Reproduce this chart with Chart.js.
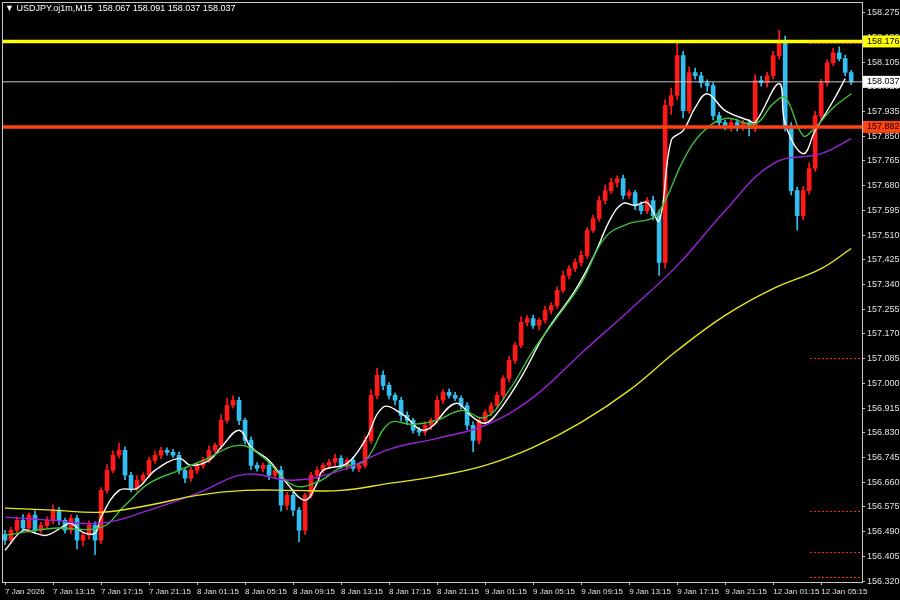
<!DOCTYPE html>
<html>
<head>
<meta charset="utf-8">
<script src="https://cdn.jsdelivr.net/npm/chart.js@4"></script>
<style>
  html, body { margin: 0; padding: 0; background: #000; }
  #wrap { width: 900px; height: 600px; position: relative; }
</style>
</head>
<body>
<div id="wrap"><canvas id="myChart"></canvas></div>
<script>
// USDJPY M15, valores
const firstOpen = 156.480;
const closes = [
  156.461,156.495,156.529,156.502,156.547,156.495,156.512,156.529,156.564,156.529,156.495,156.536,156.461,156.478,156.512,156.461,
  156.632,156.701,156.753,156.770,156.684,156.639,156.667,156.684,156.735,156.753,156.770,156.763,156.753,156.701,156.674,156.701,
  156.718,156.735,156.770,156.787,156.873,156.924,156.942,156.873,156.804,156.718,156.708,156.718,156.684,156.701,156.581,156.615,
  156.564,156.495,156.615,156.684,156.701,156.718,156.729,156.742,156.718,156.735,156.708,156.718,156.804,156.959,157.028,156.993,
  156.959,156.942,156.890,156.873,156.839,156.832,156.856,156.873,156.942,156.969,156.959,156.949,156.924,156.856,156.804,156.873,
  156.900,156.924,156.959,157.017,157.079,157.131,157.210,157.223,157.199,157.217,157.251,157.268,157.320,157.371,157.395,157.416,
  157.440,157.526,157.567,157.629,157.663,157.691,157.704,157.646,157.656,157.612,157.594,157.629,157.577,157.416,157.955,157.990,
  158.127,157.938,158.069,158.058,158.034,158.024,157.921,157.897,157.887,157.897,157.883,157.897,157.876,158.041,158.034,158.058,
  158.127,158.179,157.887,157.663,157.577,157.663,157.739,157.921,158.034,158.103,158.137,158.117,158.069,158.037
];
// mechas en milesimas
const wickUp = [
  15,10,12,20,8,15,10,12,18,10,8,12,10,8,15,12,
  10,20,15,25,12,10,15,8,12,15,10,8,10,12,8,10,
  10,12,15,8,20,25,15,10,8,12,10,8,10,12,15,10,
  12,10,8,10,12,8,10,15,10,8,12,10,15,20,25,15,
  10,8,10,12,8,10,12,8,15,10,12,10,8,10,12,10,
  8,10,12,10,15,10,20,10,12,8,15,10,12,15,10,12,
  15,10,12,15,20,15,10,12,10,8,12,10,15,20,20,25,
  50,15,20,15,12,10,10,12,8,10,12,8,10,20,15,12,
  15,35,15,10,12,15,20,15,12,10,15,20,12,8
];
const wickDown = [
  15,12,10,10,15,12,10,8,12,15,10,12,30,20,15,50,
  12,10,8,10,15,12,10,12,8,10,12,10,8,12,15,10,
  12,10,8,10,12,10,8,15,12,15,10,12,15,10,20,15,
  20,40,15,10,12,10,8,12,10,15,10,12,8,10,12,15,
  12,15,20,15,10,12,10,15,10,12,10,8,12,15,40,12,
  10,12,8,10,12,10,8,12,10,15,10,12,10,8,12,10,
  12,10,8,10,12,10,15,12,10,15,12,10,15,45,20,30,
  15,25,10,12,15,20,15,12,15,20,15,12,25,10,12,15,
  10,12,20,15,50,15,12,10,15,12,10,8,12,10
];

// medias moviles [indice, precio]
const maWhite = [[0,156.426],[3,156.495],[5,156.485],[7,156.478],[10,156.512],[11,156.519],[13,156.488],[15,156.485],[16,156.540],[19,156.632],[22,156.639],[25,156.701],[29,156.742],[31,156.718],[34,156.735],[36,156.780],[39,156.839],[41,156.780],[44,156.735],[47,156.656],[50,156.598],[52,156.656],[53,156.701],[57,156.725],[60,156.804],[63,156.918],[66,156.897],[70,156.839],[75,156.931],[78,156.883],[80,156.863],[82,156.897],[86,157.021],[90,157.172],[95,157.320],[98,157.433],[101,157.570],[103,157.619],[105,157.612],[107,157.622],[109,157.560],[111,157.835],[113,157.869],[115,157.948],[117,157.996],[120,157.938],[124,157.904],[125,157.897],[129,158.031],[130,157.893],[133,157.790],[135,157.869],[138,157.972],[140,158.048]];
const maGreen = [[0,156.478],[8,156.502],[16,156.505],[20,156.581],[24,156.656],[29,156.701],[33,156.735],[39,156.787],[43,156.746],[48,156.650],[52,156.660],[56,156.711],[60,156.735],[64,156.863],[68,156.859],[72,156.873],[76,156.907],[80,156.883],[84,156.976],[88,157.113],[92,157.227],[96,157.344],[100,157.502],[104,157.550],[108,157.570],[110,157.629],[113,157.766],[116,157.859],[120,157.911],[125,157.893],[128,157.962],[130,157.983],[133,157.852],[135,157.880],[138,157.948],[141,157.996]];
const maPurple = [[0,156.540],[8,156.529],[16,156.519],[24,156.564],[32,156.622],[40,156.687],[48,156.667],[56,156.701],[64,156.773],[72,156.811],[80,156.856],[88,156.952],[96,157.103],[104,157.251],[112,157.405],[120,157.594],[128,157.756],[136,157.790],[141,157.842]];
const maYellow = [[0,156.571],[8,156.564],[16,156.557],[24,156.581],[32,156.615],[40,156.632],[48,156.632],[56,156.632],[64,156.656],[72,156.681],[80,156.718],[88,156.780],[96,156.866],[104,156.976],[112,157.113],[120,157.234],[128,157.326],[136,157.395],[141,157.464]];

const priceTicks = [156.320,156.405,156.490,156.575,156.660,156.745,156.830,156.915,157.000,157.085,157.170,157.255,157.340,157.425,157.510,157.595,157.680,157.765,157.850,157.935,158.020,158.105,158.190,158.275];
const timeLabels = ['7 Jan 2026','7 Jan 13:15','7 Jan 17:15','7 Jan 21:15','8 Jan 01:15','8 Jan 05:15','8 Jan 09:15','8 Jan 13:15','8 Jan 17:15','8 Jan 21:15','9 Jan 01:15','9 Jan 05:15','9 Jan 09:15','9 Jan 13:15','9 Jan 17:15','9 Jan 21:15','12 Jan 01:15','12 Jan 05:15'];
const labelStep = 8;

const levelHigh = 158.176;
const levelLow = 157.882;
const lastPrice = 158.037;
const alertLevels = [157.089, 156.560, 156.419, 156.333];

const UP = '#ff1a1a';
const DOWN = '#33bdf0';
const FONT = 'Liberation Sans';

const bodies = [], wicks = [], bodyColors = [];
let prev = firstOpen;
closes.forEach((c, i) => {
  const o = prev;
  const hi = Math.max(o, c) + wickUp[i] / 1000;
  const lo = Math.min(o, c) - wickDown[i] / 1000;
  const col = c >= o ? UP : DOWN;
  let top = c, bot = o;
  if (Math.abs(c - o) < 0.002) { top = o + 0.001; bot = o - 0.001; }
  bodies.push({ x: i, y: [bot, top] });
  wicks.push({ x: i, y: [lo, hi] });
  bodyColors.push(col);
  prev = c;
});

const toPts = arr => arr.map(p => ({ x: p[0], y: p[1] }));
const maLine = (arr, color) => ({
  type: 'line', data: toPts(arr), borderColor: color, borderWidth: 1.4,
  pointRadius: 0, tension: 0.4, fill: false, order: 0
});

const overlay = {
  id: 'overlay',
  afterDatasetsDraw(chart) {
    const { ctx, chartArea: a, scales: { y } } = chart;
    ctx.save();
    const hline = (v, color, w) => {
      const py = y.getPixelForValue(v);
      ctx.strokeStyle = color; ctx.lineWidth = w;
      ctx.beginPath(); ctx.moveTo(a.left, py); ctx.lineTo(a.right, py); ctx.stroke();
    };
    hline(lastPrice, '#c8c8c8', 1);
    hline(levelLow, '#ff4010', 3.5);
    hline(levelHigh, '#ffff00', 3.5);

    ctx.strokeStyle = '#ff2020'; ctx.lineWidth = 1; ctx.setLineDash([2, 2]);
    alertLevels.concat([levelHigh - 0.006]).forEach(v => {
      const py = Math.round(y.getPixelForValue(v)) + 0.5;
      ctx.beginPath(); ctx.moveTo(a.right - 52, py); ctx.lineTo(a.right - 2, py); ctx.stroke();
    });
    ctx.setLineDash([]);

    ctx.strokeStyle = '#c8c8c8'; ctx.lineWidth = 1;
    ctx.strokeRect(a.left + 0.5, 2.5, a.right - a.left, a.bottom - 2);

    const tag = (v, bg, fg) => {
      const py = y.getPixelForValue(v);
      ctx.fillStyle = bg; ctx.fillRect(a.right + 1, py - 6, 37, 12);
      ctx.fillStyle = fg; ctx.font = '9px "' + FONT + '"';
      ctx.textBaseline = 'middle'; ctx.textAlign = 'left';
      ctx.fillText(v.toFixed(3), a.right + 5, py);
    };
    tag(levelHigh, '#ffff00', '#000');
    tag(levelLow, '#ff4010', '#000');
    tag(lastPrice, '#ffffff', '#000');

    ctx.fillStyle = '#fff'; ctx.font = '9px "' + FONT + '"';
    ctx.textBaseline = 'middle'; ctx.textAlign = 'left';
    ctx.fillText('\u25BC USDJPY.oj1m,M15  158.067 158.091 158.037 158.037', 5, 9);
    ctx.restore();
  }
};

new Chart(document.getElementById('myChart'), {
  type: 'bar',
  data: {
    datasets: [
      maLine(maYellow, '#e8e61a'),
      maLine(maPurple, '#9a22d8'),
      maLine(maGreen, '#3cc03c'),
      maLine(maWhite, '#ffffff'),
      { data: wicks, backgroundColor: bodyColors, barThickness: 1, grouped: false, order: 2 },
      { data: bodies, backgroundColor: bodyColors, barThickness: 4, grouped: false, order: 1 }
    ]
  },
  options: {
    responsive: true,
    maintainAspectRatio: false,
    animation: false,
    layout: { padding: { left: 2, top: 0, right: 0, bottom: 0 } },
    plugins: { legend: { display: false }, tooltip: { enabled: false } },
    scales: {
      x: {
        type: 'linear', min: -0.5, max: 142.8, offset: false,
        grid: { display: true, drawOnChartArea: false, offset: false, color: '#c8c8c8', tickLength: 3 },
        border: { color: '#c8c8c8' },
        afterBuildTicks: s => { s.ticks = timeLabels.map((t, k) => ({ value: k * labelStep })); },
        ticks: {
          color: '#e0e0e0', font: { family: FONT, size: 8 }, maxRotation: 0,
          autoSkip: false, align: 'start', padding: 2,
          callback: v => timeLabels[Math.round(v / labelStep)] || ''
        },
        afterFit: s => { s.height = 18; }
      },
      y: {
        position: 'right', min: 156.317, max: 158.293,
        grid: { display: true, drawOnChartArea: false, color: '#c8c8c8', tickLength: 3 },
        border: { color: '#c8c8c8' },
        afterBuildTicks: s => { s.ticks = priceTicks.map(v => ({ value: v })); },
        ticks: { color: '#e0e0e0', font: { family: FONT, size: 9 }, padding: 2, callback: v => v.toFixed(3) },
        afterFit: s => { s.width = 38; }
      }
    }
  },
  plugins: [overlay]
});
</script>
</body>
</html>
